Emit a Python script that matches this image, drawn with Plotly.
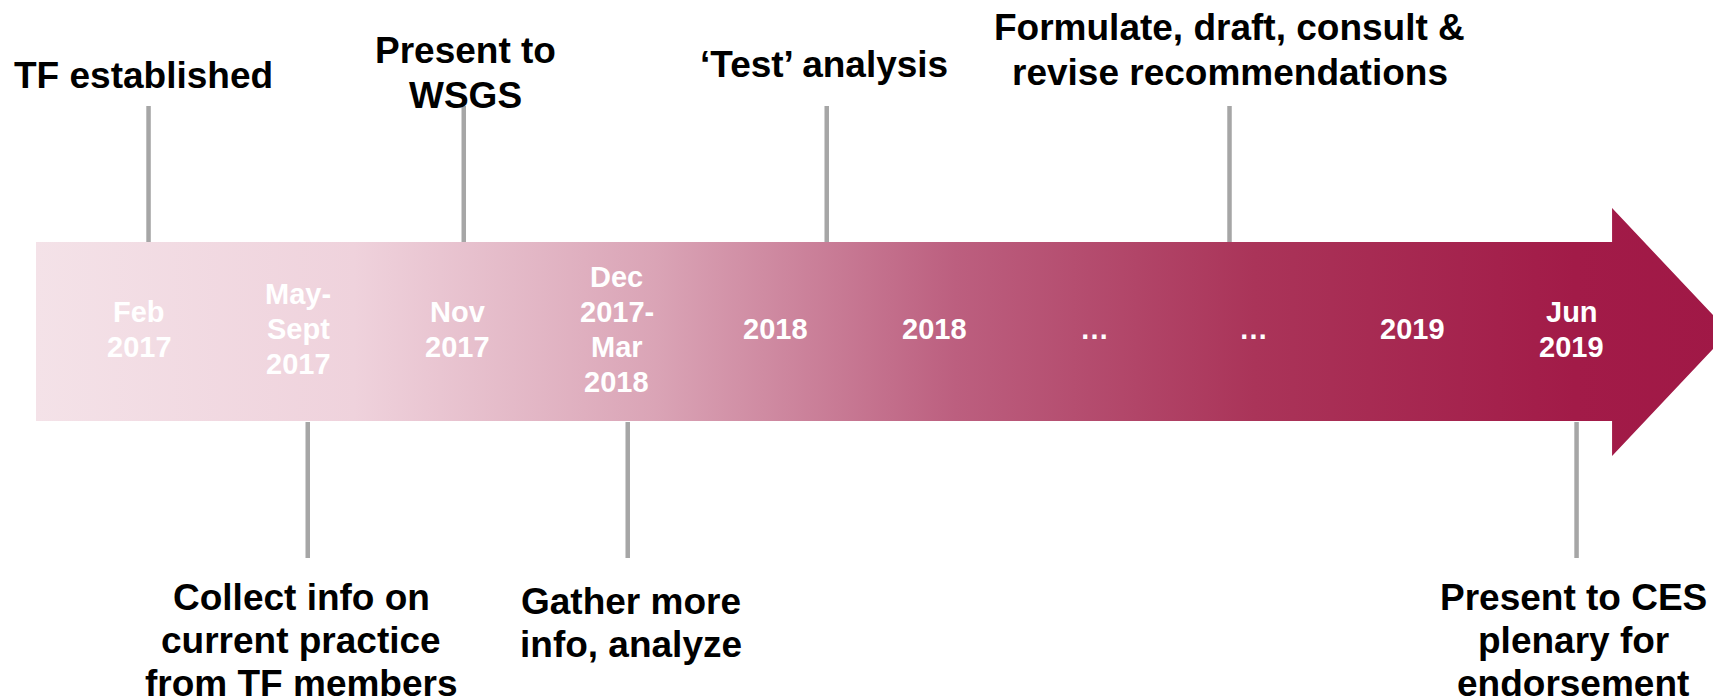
import plotly.graph_objects as go

# ---- data ----
date_labels = [["Feb", "2017"], ["May-", "Sept", "2017"], ["Nov", "2017"],
               ["Dec", "2017-", "Mar", "2018"], ["2018"], ["2018"], ["…"], ["…"],
               ["2019"], ["Jun", "2019"]]
date_slots = [0, 1, 2, 3, 4, 5, 6, 7, 8, 9]

top_events = [["TF established"], ["Present to", "WSGS"], ["‘Test’ analysis"],
              ["Formulate, draft, consult &", "revise recommendations"]]
top_stem_slots = [0.06, 2.04, 4.32, 6.85]
top_label_slots = [0.03, 2.05, 4.30, 6.85]

bottom_events = [["Collect info on", "current practice", "from TF members"],
                 ["Gather more", "info, analyze"],
                 ["Present to CES", "plenary for", "endorsement"]]
bottom_stem_slots = [1.06, 3.07, 9.03]
bottom_label_slots = [1.02, 3.09, 9.01]

# ---- layout constants ----
W, H = 1713, 700
X_RANGE = [-0.8731, 9.887]
BODY_LEFT, HEAD_START, TIP = -0.647, 9.253, 9.987
BODY_TOP, BODY_BOT = 242, 421
HEAD_TOP, HEAD_BOT, MID = 208, 456, 332
TOP_STEM = (106, 242)
BOT_STEM = (422, 558)
TOP_LABEL_Y = [75, 73, 64, 50]
BOT_LABEL_Y = [640, 623, 640]
DATE_Y = 329
LABEL_SIZE, LABEL_GAP = 37, 43
DATE_SIZE, DATE_GAP = 29, 35
STEM_COLOR = "#A6A6A6"
FONT = "Liberation Sans, Arial, sans-serif"

fig = go.Figure()

# arrow with gradient
ax = [BODY_LEFT, HEAD_START, HEAD_START, TIP, HEAD_START, HEAD_START, BODY_LEFT, BODY_LEFT]
ay = [BODY_TOP, BODY_TOP, HEAD_TOP, MID, HEAD_BOT, BODY_BOT, BODY_BOT, BODY_TOP]
fig.add_trace(go.Scatter(
    x=ax, y=ay, mode="lines", fill="toself", line=dict(width=0),
    fillgradient=dict(type="horizontal", start=BODY_LEFT, stop=TIP,
                      colorscale=[[0.0, "#F4E2E8"], [0.188, "#EFD2DC"], [0.366, "#DAA4B6"],
                                  [0.543, "#BC5F7F"], [0.72, "#AA3459"], [0.909, "#A21B48"],
                                  [1.0, "#A01846"]]),
    hoverinfo="skip", showlegend=False))

# stems
sx, sy = [], []
for s in top_stem_slots:
    sx += [s, s, None]
    sy += [TOP_STEM[0], TOP_STEM[1], None]
for s in bottom_stem_slots:
    sx += [s, s, None]
    sy += [BOT_STEM[0], BOT_STEM[1], None]
fig.add_trace(go.Scatter(x=sx, y=sy, mode="lines", line=dict(color=STEM_COLOR, width=4.5),
                         hoverinfo="skip", showlegend=False))


def add_block(lines, x, yc, size, gap, color):
    n = len(lines)
    for k, line in enumerate(lines):
        y = yc + (k - (n - 1) / 2.0) * gap
        fig.add_annotation(x=x, y=y, text="<b>%s</b>" % line, showarrow=False,
                           xanchor="center", yanchor="middle",
                           font=dict(family=FONT, size=size, color=color))


for lab, s in zip(date_labels, date_slots):
    add_block(lab, s, DATE_Y, DATE_SIZE, DATE_GAP, "white")
for lab, s, y in zip(top_events, top_label_slots, TOP_LABEL_Y):
    add_block(lab, s, y, LABEL_SIZE, LABEL_GAP + 2, "black")
for lab, s, y in zip(bottom_events, bottom_label_slots, BOT_LABEL_Y):
    add_block(lab, s, y, LABEL_SIZE, LABEL_GAP, "black")

fig.update_layout(width=W, height=H, margin=dict(l=0, r=0, t=0, b=0),
                  paper_bgcolor="white", plot_bgcolor="white", showlegend=False)
fig.update_xaxes(range=X_RANGE, visible=False, fixedrange=True)
fig.update_yaxes(range=[H, 0], visible=False, fixedrange=True)

fig.write_html("out.html", config={"displayModeBar": False},
               post_script="document.body.style.margin='0';document.body.style.overflow='hidden';")
